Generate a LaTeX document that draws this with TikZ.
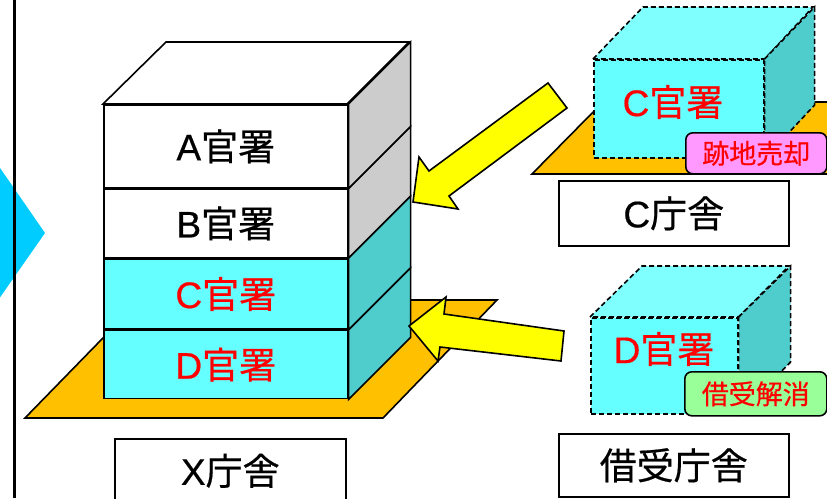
\documentclass[tikz,border=0pt]{standalone}
\usepackage{fontspec}
\setmainfont[FakeBold=0.5]{Noto Sans CJK JP}
\newfontfamily\latinfont[FakeBold=0.5]{Liberation Sans}
\newcommand{\lt}[1]{{\latinfont #1}}

\definecolor{roomcyan}{RGB}{102,255,255}
\definecolor{roomtop}{RGB}{128,255,255}
\definecolor{sidecyan}{RGB}{79,204,204}
\definecolor{sidegray}{RGB}{204,204,204}
\definecolor{platform}{RGB}{255,192,0}
\definecolor{arrowyellow}{RGB}{255,255,0}
\definecolor{chevron}{RGB}{0,204,255}
\definecolor{tagpink}{RGB}{255,153,255}
\definecolor{taggreen}{RGB}{153,255,153}

\begin{document}
\begin{tikzpicture}[x=1pt,y=-1pt,
  line width=1.6pt,
  floor/.style={draw=black, minimum width=244pt, inner sep=0pt, anchor=north west, font=\fontsize{37}{42}\selectfont},
  boxlabel/.style={draw=black, fill=white, inner sep=0pt, anchor=north west, font=\fontsize{37}{42}\selectfont},
  tag/.style={draw=black, rounded corners=7pt, inner sep=0pt, anchor=north west, text=red, font=\fontsize{27}{30}\selectfont},
  cubetext/.style={text=red, font=\fontsize{37}{42}\selectfont},
  dashcube/.style={draw=black, dash pattern=on 5pt off 3pt},
  yajirushi/.style={draw=black, fill=arrowyellow}]

\clip (0,0) rectangle (827,498);

% chevron behind the separator
\fill[chevron] (-20,139) -- (45,233) -- (-20,326) -- cycle;
\draw[line width=3pt] (14,0) -- (14,498);

% X building on its plot
\filldraw[fill=platform] (25,418) -- (140,300) -- (497,300) -- (383,418) -- cycle;
\filldraw[fill=white] (103,104) -- (166,42) -- (409,42) -- (347,104) -- cycle;
\node[floor, fill=white, minimum height=83pt] (kanA) at (103,104) {\lt{A}官署};
\node[floor, fill=white, minimum height=68pt] (kanB) at (kanA.south west) {\lt{B}官署};
\node[floor, fill=roomcyan, minimum height=70pt, text=red] (kanC) at (kanB.south west) {\lt{C}官署};
\node[floor, fill=roomcyan, minimum height=68pt, text=red] (kanD) at (kanC.south west) {\lt{D}官署};
\foreach \f/\c in {kanA/sidegray, kanB/sidegray, kanC/sidecyan, kanD/sidecyan}
  \filldraw[fill=\c] (\f.south east) -- (\f.north east) -- ++(62,-62)
    -- ([shift={(62,-62)}]\f.south east) -- cycle;
\node[boxlabel, minimum width=231pt, minimum height=64pt] (xchosha) at (114,438) {\lt{X}庁舎};

% moving arrows
\filldraw[yajirushi] (413,202) -- (419,157) -- (429,171) -- (548,83) -- (567,108)
  -- (449,196) -- (458,209) -- cycle;
\filldraw[yajirushi] (409,326) -- (446,297) -- (444,314) -- (564,331) -- (561,361)
  -- (440,347) -- (438,361) -- cycle;

% C building
\filldraw[fill=platform] (532,174) -- (603,102) -- (900,102) -- (830,174) -- cycle;
\node[dashcube, fill=roomcyan, minimum width=170pt, minimum height=98pt, inner sep=0pt, anchor=north west] (cfront) at (593,59) {};
\filldraw[fill=roomtop, dashcube] (cfront.north west) -- ++(50,-52) -- ++(170,0) -- (cfront.north east) -- cycle;
\filldraw[fill=sidecyan, dashcube] (cfront.north east) -- ++(50,-52) -- ++(0,98) -- (cfront.south east) -- cycle;
\node[cubetext] (ctext) at (673,102) {\lt{C}官署};
\node[tag, fill=tagpink, minimum width=141pt, minimum height=41pt] (baikyaku) at (685,132) {跡地売却};
\node[boxlabel, minimum width=230pt, minimum height=65pt] (cchosha) at (558,180) {\lt{C}庁舎};

% leased building
\node[dashcube, fill=roomcyan, minimum width=147pt, minimum height=96pt, inner sep=0pt, anchor=north west] (dfront) at (590,317) {};
\filldraw[fill=roomtop, dashcube] (dfront.north west) -- ++(52,-51) -- ++(147,0) -- (dfront.north east) -- cycle;
\filldraw[fill=sidecyan, dashcube] (dfront.north east) -- ++(52,-51) -- ++(0,96) -- (dfront.south east) -- cycle;
\node[cubetext] (dtext) at (664,349) {\lt{D}官署};
\node[tag, fill=taggreen, minimum width=142pt, minimum height=44pt] (kaisho) at (684,371) {借受解消};
\node[boxlabel, minimum width=230pt, minimum height=63pt] (shakuju) at (558,433) {借受庁舎};

\end{tikzpicture}
\end{document}
